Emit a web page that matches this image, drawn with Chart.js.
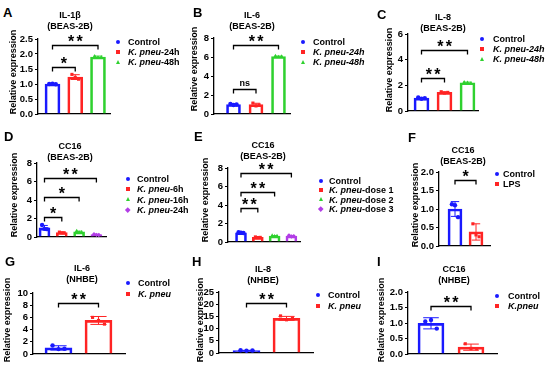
<!DOCTYPE html>
<html>
<head>
<meta charset="utf-8">
<script src="https://cdn.jsdelivr.net/npm/chart.js@4.4.1/dist/chart.umd.min.js"></script>
<style>
  body { margin: 0; background: #fff; }
  #fig { position: relative; width: 550px; height: 370px; overflow: hidden;
         font-family: "Liberation Sans", Arial, sans-serif; font-weight: bold; color: #000; }
  #fig canvas { position: absolute; }
  .letter { position: absolute; font-size: 13px; line-height: 13px; }
  .ttl { position: absolute; width: 90px; font-size: 9px; line-height: 11px; text-align: center; white-space: nowrap; }
  .leg { position: absolute; font-size: 9px; line-height: 10px; white-space: nowrap; }
  .ylab { position: absolute; width: 110px; font-size: 9px; line-height: 10px; text-align: center;
          white-space: nowrap; transform: rotate(-90deg); }
  .mk { position: absolute; }
</style>
</head>
<body>
<div id="fig"></div>
<script>
// ---- data ----
const groupsA = ["Control", "K. pneu-24h", "K. pneu-48h"];
const meansA = [1.0, 1.23, 1.9];
const sdA = [0.02, 0.08, 0.03];
const pointsA = [[1.0, 1.01, 0.99], [1.32, 1.22, 1.16], [1.93, 1.88, 1.89]];
const sigA = [[0, 1, 1.57, "*"], [0, 2, 2.3, "**"]];
const ticksA = [0, 0.5, 1.0, 1.5, 2.0, 2.5];

const groupsB = ["Control", "K. pneu-24h", "K. pneu-48h"];
const meansB = [1.0, 0.98, 6.05];
const sdB = [0.08, 0.15, 0.05];
const pointsB = [[1.05, 0.95, 1.0], [1.15, 0.85, 0.95], [6.1, 6.0, 6.05]];
const sigB = [[0, 1, 2.6, "ns"], [0, 2, 7.3, "**"]];
const ticksB = [0, 2, 4, 6, 8];

const groupsC = ["Control", "K. pneu-24h", "K. pneu-48h"];
const meansC = [1.0, 1.45, 2.2];
const sdC = [0.05, 0.05, 0.05];
const pointsC = [[1.05, 0.95, 1.0], [1.5, 1.4, 1.45], [2.25, 2.2, 2.15]];
const sigC = [[0, 1, 2.57, "**"], [0, 2, 4.75, "**"]];
const ticksC = [0, 2, 4, 6];

const groupsD = ["Control", "K. pneu-6h", "K. pneu-16h", "K. pneu-24h"];
const meansD = [1.0, 0.48, 0.55, 0.25];
const sdD = [0.25, 0.05, 0.08, 0.05];
const pointsD = [[1.3, 0.88, 0.85], [0.53, 0.46, 0.45], [0.65, 0.5, 0.52], [0.3, 0.23, 0.22]];
const sigD = [[0, 1, 2.2, "*"], [0, 2, 4.3, "*"], [0, 3, 6.35, "**"]];
const ticksD = [0, 2, 4, 6, 8];

const groupsE = ["Control", "K. pneu-dose 1", "K. pneu-dose 2", "K. pneu-dose 3"];
const meansE = [1.0, 0.5, 0.65, 0.65];
const sdE = [0.05, 0.04, 0.04, 0.06];
const pointsE = [[1.05, 1.0, 0.98], [0.55, 0.48, 0.5], [0.7, 0.62, 0.65], [0.72, 0.6, 0.63]];
const sigE = [[0, 1, 3.64, "**"], [0, 2, 5.44, "**"], [0, 3, 7.43, "**"]];
const ticksE = [0, 2, 4, 6, 8];

const groupsF = ["Control", "LPS"];
const meansF = [1.0, 0.38];
const sdF = [0.2, 0.22];
const pointsF = [[1.13, 1.1, 0.78], [0.6, 0.3, 0.25]];
const sigF = [[0, 1, 1.78, "*"]];
const ticksF = [0, 0.5, 1.0, 1.5, 2.0];

const groupsG = ["Control", "K. pneu"];
const meansG = [1.0, 5.5];
const sdG = [0.35, 0.65];
const pointsG = [[1.4, 0.8, 0.85], [6.0, 5.5, 4.9]];
const sigG = [[0, 1, 8.4, "**"]];
const ticksG = [0, 2, 4, 6, 8, 10];

const groupsH = ["Control", "K. pneu"];
const meansH = [1.0, 14.2];
const sdH = [0.1, 0.8];
const pointsH = [[1.1, 0.9, 1.0], [15.2, 13.6, 14.2]];
const sigH = [[0, 1, 20.4, "**"]];
const ticksH = [0, 5, 10, 15, 20, 25];

const groupsI = ["Control", "K.pneu"];
const meansI = [0.99, 0.22];
const sdI = [0.18, 0.1];
const pointsI = [[1.05, 1.1, 0.82], [0.33, 0.18, 0.17]];
const sigI = [[0, 1, 1.56, "**"]];
const ticksI = [0, 0.5, 1.0, 1.5, 2.0];

const yTitle = "Relative expression";

// ---- styles ----
const FONT = '"Liberation Sans", Arial, sans-serif';
const colors = ["#1a1aff", "#ff2424", "#2fd12f", "#b23ee6"];
const shapes = ["circle", "rect", "triangle", "rectRot"];

// ---- layout of each panel (page pixels) ----
const panels = [
  { letter: "A", lx: 3, ly: 8, title: ["IL-1\u03b2", "(BEAS-2B)"], tx: 70, ty: 15,
    groups: groupsA, means: meansA, sd: sdA, points: pointsA, sig: sigA, ticks: ticksA, dec: 1,
    axisX: 38, axisEnd: 110, top: 39, bottom: 114, yTitleX: 13, yTitleY: 71.5, c0: 52.5, step: 22.75, barW: 15,
    mx: 118, textX: 128, rowY: 42, rowStep: 10, allItalic: false },
  { letter: "B", lx: 193, ly: 8, title: ["IL-6", "(BEAS-2B)"], tx: 252, ty: 15,
    groups: groupsB, means: meansB, sd: sdB, points: pointsB, sig: sigB, ticks: ticksB, dec: 0,
    axisX: 214, axisEnd: 290, top: 38, bottom: 114, yTitleX: 194, yTitleY: 69, c0: 233.5, step: 22.5, barW: 14,
    mx: 303, textX: 313, rowY: 42, rowStep: 10, allItalic: true },
  { letter: "C", lx: 377, ly: 10, title: ["IL-8", "(BEAS-2B)"], tx: 443, ty: 17,
    groups: groupsC, means: meansC, sd: sdC, points: pointsC, sig: sigC, ticks: ticksC, dec: 0,
    axisX: 408, axisEnd: 478, top: 34, bottom: 111, yTitleX: 389, yTitleY: 70, c0: 421.5, step: 23, barW: 15,
    mx: 482, textX: 493, rowY: 39, rowStep: 10, allItalic: true },
  { letter: "D", lx: 4, ly: 132, title: ["CC16", "(BEAS-2B)"], tx: 70, ty: 146,
    groups: groupsD, means: meansD, sd: sdD, points: pointsD, sig: sigD, ticks: ticksD, dec: 0,
    axisX: 37, axisEnd: 106, top: 163, bottom: 237, yTitleX: 14, yTitleY: 195, c0: 44.5, step: 17.3, barW: 11,
    mx: 128, textX: 137, rowY: 179, rowStep: 10.3, allItalic: false },
  { letter: "E", lx: 194, ly: 132, title: ["CC16", "(BEAS-2B)"], tx: 263, ty: 145,
    groups: groupsE, means: meansE, sd: sdE, points: pointsE, sig: sigE, ticks: ticksE, dec: 0,
    axisX: 228, axisEnd: 300, top: 168, bottom: 242, yTitleX: 205, yTitleY: 200, c0: 241, step: 16.8, barW: 11,
    mx: 321, textX: 329, rowY: 181, rowStep: 9.3, allItalic: false },
  { letter: "F", lx: 408, ly: 133, title: ["CC16", "(BEAS-2B)"], tx: 463, ty: 150,
    groups: groupsF, means: meansF, sd: sdF, points: pointsF, sig: sigF, ticks: ticksF, dec: 1,
    axisX: 439, axisEnd: 490, top: 172, bottom: 246, yTitleX: 415, yTitleY: 205, c0: 455, step: 21, barW: 14,
    mx: 497, textX: 503, rowY: 174, rowStep: 10, allItalic: false },
  { letter: "G", lx: 5, ly: 257, title: ["IL-6", "(NHBE)"], tx: 82, ty: 268,
    groups: groupsG, means: meansG, sd: sdG, points: pointsG, sig: sigG, ticks: ticksG, dec: 0,
    axisX: 33, axisEnd: 125, top: 293, bottom: 354, yTitleX: 7, yTitleY: 320, c0: 58.5, step: 40, barW: 27,
    mx: 128, textX: 138, rowY: 283, rowStep: 11, allItalic: false },
  { letter: "H", lx: 192, ly: 257, title: ["IL-8", "(NHBE)"], tx: 263, ty: 269,
    groups: groupsH, means: meansH, sd: sdH, points: pointsH, sig: sigH, ticks: ticksH, dec: 0,
    axisX: 219, axisEnd: 313, top: 292, bottom: 353, yTitleX: 200, yTitleY: 319.5, c0: 246.5, step: 40, barW: 27,
    mx: 318, textX: 328, rowY: 295, rowStep: 11, allItalic: false },
  { letter: "I", lx: 377, ly: 257, title: ["CC16", "(NHBE)"], tx: 454, ty: 269,
    groups: groupsI, means: meansI, sd: sdI, points: pointsI, sig: sigI, ticks: ticksI, dec: 1,
    axisX: 408, axisEnd: 497, top: 292, bottom: 354, yTitleX: 381, yTitleY: 320, c0: 431, step: 40, barW: 26,
    mx: 497, textX: 508, rowY: 296, rowStep: 10, allItalic: false },
];

const fig = document.getElementById("fig");
const PAD_TOP = 16;
const PAD_BOTTOM = 14;

function addDiv(cls, left, top, html) {
  const d = document.createElement("div");
  d.className = cls;
  d.style.left = left + "px";
  d.style.top = top + "px";
  d.innerHTML = html;
  fig.appendChild(d);
  return d;
}

function legendText(label, allItalic) {
  if (allItalic && label.startsWith("K.")) return "<i>" + label + "</i>";
  const m = label.match(/^K\. ?pneu/);
  if (!m) return label;
  return "<i>" + m[0] + "</i>" + label.slice(m[0].length);
}

function addMarker(shape, color, cx, cy) {
  const d = document.createElement("div");
  d.className = "mk";
  if (shape === "circle") {
    Object.assign(d.style, { width: "4px", height: "4px", borderRadius: "50%", background: color,
      left: cx - 2 + "px", top: cy - 2 + "px" });
  } else if (shape === "rect") {
    Object.assign(d.style, { width: "4px", height: "4px", background: color,
      left: cx - 2 + "px", top: cy - 2 + "px" });
  } else if (shape === "triangle") {
    Object.assign(d.style, { width: "0", height: "0", borderLeft: "2.5px solid transparent",
      borderRight: "2.5px solid transparent", borderBottom: "4.5px solid " + color,
      left: cx - 2.5 + "px", top: cy - 2.5 + "px" });
  } else {
    Object.assign(d.style, { width: "3.5px", height: "3.5px", background: color, transform: "rotate(45deg)",
      left: cx - 1.75 + "px", top: cy - 1.75 + "px" });
  }
  fig.appendChild(d);
}

function createPanel(p) {
  const n = p.means.length;
  const left = p.yTitleX - 5;
  const top = p.top - PAD_TOP;
  const width = p.axisEnd - left + 4;
  const height = p.bottom - top + PAD_BOTTOM;

  const cv = document.createElement("canvas");
  cv.width = width;
  cv.height = height;
  cv.style.left = left + "px";
  cv.style.top = top + "px";
  cv.style.width = width + "px";
  cv.style.height = height + "px";
  fig.appendChild(cv);

  const datasets = [
    {
      type: "bar",
      data: p.means.map((m, i) => ({ x: i, y: m })),
      backgroundColor: "rgba(255,255,255,0)",
      borderColor: colors.slice(0, n),
      borderWidth: 2,
      barThickness: p.barW,
      order: 2,
    },
  ];
  p.points.forEach((vals, i) => {
    datasets.push({
      type: "scatter",
      data: vals.map((v, j) => ({ x: i + (j - 1) * (p.barW * 0.22) / p.step, y: v })),
      pointStyle: shapes[i],
      pointRadius: 2.2,
      pointBorderWidth: 0,
      backgroundColor: colors[i],
      borderColor: colors[i],
      order: 1,
    });
  });

  // error bars and significance brackets, placed with the chart's scales
  const extras = {
    id: "extras",
    afterDatasetsDraw(chart) {
      const { ctx } = chart;
      const x = chart.scales.x;
      const y = chart.scales.y;
      ctx.save();
      p.means.forEach((m, i) => {
        const cx = x.getPixelForValue(i);
        const hi = y.getPixelForValue(m + p.sd[i]);
        const lo = y.getPixelForValue(Math.max(0, m - p.sd[i]));
        const cap = p.barW * 0.3;
        ctx.strokeStyle = colors[i];
        ctx.lineWidth = 1;
        ctx.beginPath();
        ctx.moveTo(cx, hi);
        ctx.lineTo(cx, lo);
        ctx.moveTo(cx - cap, hi);
        ctx.lineTo(cx + cap, hi);
        ctx.moveTo(cx - cap, lo);
        ctx.lineTo(cx + cap, lo);
        ctx.stroke();
      });
      p.sig.forEach(([a, b, v, label]) => {
        const x1 = x.getPixelForValue(a);
        const x2 = x.getPixelForValue(b);
        const yy = Math.round(y.getPixelForValue(v)) + 0.5;
        ctx.strokeStyle = "#000";
        ctx.lineWidth = 1.3;
        ctx.beginPath();
        ctx.moveTo(x1, yy + 4);
        ctx.lineTo(x1, yy);
        ctx.lineTo(x2, yy);
        ctx.lineTo(x2, yy + 4);
        ctx.stroke();
        ctx.fillStyle = "#000";
        ctx.textAlign = "center";
        ctx.textBaseline = "alphabetic";
        const mid = (x1 + x2) / 2;
        if (label === "ns") {
          ctx.font = "bold 9px " + FONT;
          ctx.fillText("ns", mid, yy - 4);
        } else {
          ctx.font = "bold 16px " + FONT;
          for (let k = 0; k < label.length; k++) {
            ctx.fillText("*", mid + (k - (label.length - 1) / 2) * 8.5, yy + 1.5);
          }
        }
      });
      ctx.restore();
    },
  };

  new Chart(cv, {
    type: "bar",
    data: { datasets: datasets },
    options: {
      responsive: false,
      maintainAspectRatio: false,
      animation: false,
      events: [],
      devicePixelRatio: 1,
      layout: { padding: { top: PAD_TOP, right: 3, bottom: PAD_BOTTOM, left: 0 } },
      plugins: { legend: { display: false }, tooltip: { enabled: false } },
      scales: {
        x: {
          type: "linear",
          offset: false,
          min: (p.axisX - p.c0) / p.step,
          max: (p.axisEnd - p.c0) / p.step,
          ticks: { display: false },
          grid: { display: false, offset: false },
          border: { display: true, color: "#000", width: 1.3 },
          afterFit: (s) => { s.height = 0; },
        },
        y: {
          type: "linear",
          min: p.ticks[0],
          max: p.ticks[p.ticks.length - 1],
          afterBuildTicks: (s) => { s.ticks = p.ticks.map((v) => ({ value: v })); },
          afterFit: (s) => { s.width = p.axisX - left; },
          ticks: {
            callback: (v) => Number(v).toFixed(p.dec),
            font: { family: FONT, size: 9.5, weight: "bold" },
            color: "#000",
            padding: 2,
            autoSkip: false,
          },
          grid: { display: true, drawOnChartArea: false, drawTicks: true, tickLength: 3, color: "#000", lineWidth: 1 },
          border: { display: true, color: "#000", width: 1.3 },
        },
      },
    },
    plugins: [extras],
  });

  // panel letter, titles, legend
  addDiv("letter", p.lx, p.ly - 2, p.letter);
  addDiv("ttl", p.tx - 45, p.ty - 5.5, p.title[0] + "<br>" + p.title[1]);
  addDiv("ylab", p.yTitleX - 55, p.yTitleY - 5, yTitle);
  p.groups.forEach((g, i) => {
    const ry = p.rowY + i * p.rowStep;
    addMarker(shapes[i], colors[i], p.mx, ry);
    addDiv("leg", p.textX, ry - 5, legendText(g, p.allItalic));
  });
}

document.addEventListener("DOMContentLoaded", function () {
  panels.forEach(createPanel);
});
</script>
</body>
</html>
